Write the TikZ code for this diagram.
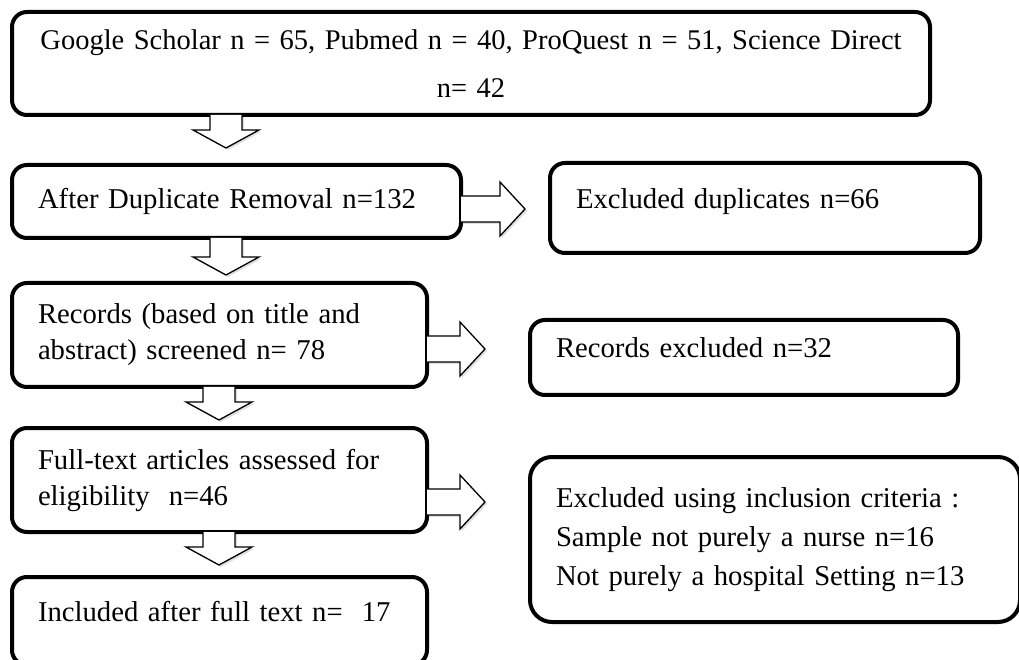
\documentclass[tikz,border=0pt]{standalone}
\usepackage{fontspec}
\setmainfont{Liberation Serif}
\usetikzlibrary{calc}
\usetikzlibrary{positioning}
\usetikzlibrary{shadows}
\newcommand{\flowfont}{\fontsize{28.7}{36}\selectfont}
\newcommand{\topfont}{\fontsize{28.5}{48}\selectfont}
\tikzset{
    box/.style = {
      draw,
      line width=4pt,
      rounded corners=15pt,
      rectangle,
      fill=white,
      inner xsep=26pt, inner ysep=0pt, outer sep=0pt,
      align=left,
      font=\flowfont
    },
    flow/.style = {line width=1.3pt, fill=white,
      drop shadow={opacity=0.25, shadow xshift=2pt, shadow yshift=-2pt}},
    downflow/.style = {flow, to path={
      let \p1=(\tikztostart), \p2=(\tikztotarget) in
      (\x1-16pt,\y1) -- (\x1-16pt,\y2+18pt) -- (\x1-33pt,\y2+18pt)
      -- (\x1,\y2) -- (\x1+33pt,\y2+18pt) -- (\x1+16pt,\y2+18pt) -- (\x1+16pt,\y1)}},
    rightflow/.style = {flow, to path={
      let \p1=(\tikztostart), \p2=(\tikztotarget) in
      (\x1,\y1+13pt) -- (\x2-25pt,\y1+13pt) -- (\x2-25pt,\y1+27pt)
      -- (\x2,\y1) -- (\x2-25pt,\y1-27pt) -- (\x2-25pt,\y1-13pt) -- (\x1,\y1-13pt)}},
}

\begin{document}
\begin{tikzpicture}[x=1pt, y=1pt]
  \useasboundingbox (0,0) rectangle (1019,659);

  % left column
  \node [box, anchor=north west, minimum height=103pt, text width=866pt,
         align=center, font=\topfont] (search) at (12,647)
        {Google Scholar n = 65, Pubmed n = 40, ProQuest n = 51, Science Direct\\n= 42};
  \node [box, below=50pt of search.south west, anchor=north west,
         minimum height=73pt, text width=397pt] (dedup) {After Duplicate Removal n=132};
  \node [box, below=45pt of dedup.south west, anchor=north west,
         minimum height=104pt, text width=363pt] (screen)
        {Records (based on title and\\abstract) screened n= 78};
  \node [box, below=41pt of screen.south west, anchor=north west,
         minimum height=104pt, text width=363pt] (fulltext)
        {Full-text articles assessed for\\eligibility\ \ n=46};
  \node [box, below=45pt of fulltext.south west, anchor=north west,
         minimum height=88pt, text width=363pt, text depth=20pt] (included)
        {Included after full text n=\ \ 17};

  % right column
  \node [box, right=89pt of dedup.north east, anchor=north west, yshift=2pt,
         minimum height=90pt, text width=378pt, text depth=18pt] (dupx) {Excluded duplicates n=66};
  \node [box, right=103pt of screen.north east, anchor=north west, yshift=-37pt,
         minimum height=75pt, text width=376pt, text depth=20pt] (recx) {Records excluded n=32};
  \node [box, right=103pt of fulltext.north east, anchor=north west, yshift=-29pt,
         minimum height=165pt, text width=438pt, rounded corners=22pt,
         font=\fontsize{28.7}{39}\selectfont] (critx)
        {Excluded using inclusion criteria :\\Sample not purely a nurse n=16\\Not purely a hospital Setting n=13};

  % block arrows
  \draw [downflow] ([xshift=214pt]search.south west) to ([xshift=214pt, yshift=17pt]dedup.north west);
  \draw [downflow] ([xshift=214pt]dedup.south west) to ([xshift=214pt, yshift=8pt]screen.north west);
  \draw [downflow] ([xshift=207pt]screen.south west) to ([xshift=207pt, yshift=8pt]fulltext.north west);
  \draw [downflow] ([xshift=207pt]fulltext.south west) to ([xshift=207pt, yshift=12pt]included.north west);
  \draw [rightflow] ([yshift=-7.5pt]dedup.east) to ([xshift=-25pt]dupx.west);
  \draw [rightflow] ([yshift=-14pt]screen.east) to ([xshift=-45pt]recx.west);
  \draw [rightflow] ([yshift=-22pt]fulltext.east) to ([xshift=-45pt]critx.west);
\end{tikzpicture}
\end{document}
